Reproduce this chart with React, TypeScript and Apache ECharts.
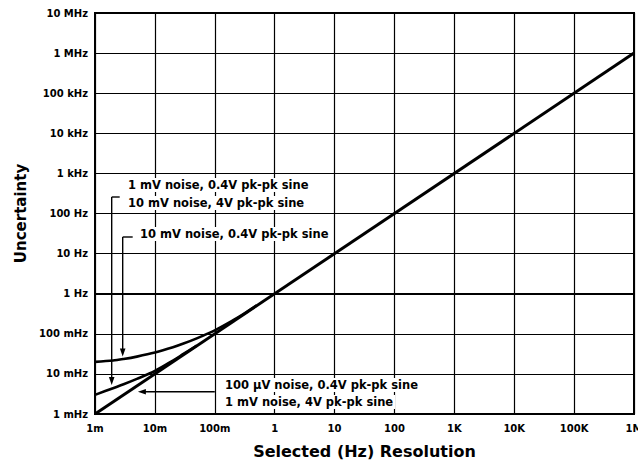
import React, { useEffect, useRef } from "react";
import * as echarts from "echarts";

// Tick labels (one per decade)
const xTickLabels = ["1m", "10m", "100m", "1", "10", "100", "1K", "10K", "100K", "1M"];
const yTickLabels = [
  "1 mHz", "10 mHz", "100 mHz", "1 Hz", "10 Hz", "100 Hz",
  "1 kHz", "10 kHz", "100 kHz", "1 MHz", "10 MHz",
];

// Resolution-limited line (uncertainty = resolution)
const lineX = [0.001, 1000000];
const lineY = [0.001, 1000000];

// 10 mV noise, 0.4V pk-pk sine (upper curve)
const upperX = [0.001, 0.002, 0.003, 0.005, 0.01, 0.02, 0.03, 0.05, 0.1, 0.2, 0.3, 0.5];
const upperY = [0.02, 0.0215, 0.0235, 0.027, 0.034, 0.046, 0.057, 0.077, 0.122, 0.215, 0.31, 0.51];

// 1 mV noise 0.4V / 10 mV noise 4V (middle curve)
const middleX = [0.001, 0.002, 0.003, 0.005, 0.01, 0.02, 0.03, 0.05];
const middleY = [0.003, 0.0044, 0.0055, 0.0075, 0.0118, 0.0215, 0.0315, 0.051];

// Annotation texts
const noteA = ["1 mV noise, 0.4V pk-pk sine", "10 mV noise, 4V pk-pk sine"];
const noteB = ["10 mV noise, 0.4V pk-pk sine"];
const noteC = ["100 \u03bcV noise, 0.4V pk-pk sine", "1 mV noise, 4V pk-pk sine"];

const FONT = "'DejaVu Sans', sans-serif";
const Y_MIN_EXP = -3;
const Y_MAX_EXP = 7;

// y values are placed on a decade (log10) value axis
function zip(xs: number[], ys: number[]) {
  return xs.map((x, i) => [x, Math.log10(ys[i])]);
}

function xIndex(v: number) {
  return Math.round(Math.log10(v)) + 3;
}

export default function App() {
  const ref = useRef<HTMLDivElement>(null);

  useEffect(() => {
    document.body.style.margin = "0";
    if (!ref.current) return;
    const chart = echarts.init(ref.current, undefined, { renderer: "svg" });

    const option: any = {
      animation: false,
      backgroundColor: "#fff",
      grid: {
        left: 95,
        right: 4,
        top: 13,
        bottom: 47,
        containLabel: false,
        outerBoundsMode: "none",
        show: true,
        borderColor: "#000",
        borderWidth: 2,
        backgroundColor: "transparent",
      },
      xAxis: {
        type: "log",
        logBase: 10,
        min: 0.001,
        max: 1000000,
        splitNumber: 9,
        name: "Selected (Hz) Resolution",
        nameLocation: "middle",
        nameGap: 29,
        nameTextStyle: { fontFamily: FONT, fontWeight: "bold", fontSize: 16, color: "#000" },
        axisLine: { show: true, lineStyle: { color: "#000", width: 2 } },
        axisTick: { show: false },
        axisLabel: {
          fontFamily: FONT,
          fontWeight: "bold",
          fontSize: 10,
          color: "#000",
          margin: 9,
          formatter: (v: number) => xTickLabels[xIndex(v)] ?? "",
        },
        splitLine: { show: true, lineStyle: { color: "#000", width: 1.2 } },
      },
      yAxis: {
        type: "value",
        min: Y_MIN_EXP,
        max: Y_MAX_EXP,
        interval: 1,
        name: "Uncertainty",
        nameLocation: "middle",
        nameGap: 66,
        nameRotate: 90,
        nameTextStyle: { fontFamily: FONT, fontWeight: "bold", fontSize: 15, color: "#000" },
        axisLine: { show: true, lineStyle: { color: "#000", width: 2 } },
        axisTick: { show: false },
        axisLabel: {
          fontFamily: FONT,
          fontWeight: "bold",
          fontSize: 10,
          color: "#000",
          margin: 7,
          formatter: (v: number) => yTickLabels[Math.round(v) - Y_MIN_EXP] ?? "",
        },
        splitLine: { show: true, lineStyle: { color: "#000", width: 1.2 } },
      },
      series: [
        {
          name: "resolution",
          type: "line",
          data: zip(lineX, lineY),
          showSymbol: false,
          lineStyle: { color: "#000", width: 3 },
          z: 3,
        },
        {
          name: "upper",
          type: "line",
          data: zip(upperX, upperY),
          showSymbol: false,
          smooth: 0.3,
          lineStyle: { color: "#000", width: 2.6 },
          z: 3,
        },
        {
          name: "middle",
          type: "line",
          data: zip(middleX, middleY),
          showSymbol: false,
          smooth: 0.3,
          lineStyle: { color: "#000", width: 2.6 },
          z: 3,
        },
      ],
    };

    chart.setOption(option);

    const px = (x: number, y: number) =>
      chart.convertToPixel({ gridIndex: 0 }, [x, Math.log10(y)]) as number[];

    const textStyle = (s: string) => ({
      text: s,
      fontFamily: FONT,
      fontWeight: "bold",
      fontSize: 11.5,
      fill: "#000",
      backgroundColor: "#fff",
      padding: [1, 2, 1, 2],
      verticalAlign: "middle",
      align: "left",
    });

    const arrowDown = (x: number, tipY: number) => ({
      type: "polygon",
      shape: { points: [[x - 2.8, tipY - 8], [x + 2.8, tipY - 8], [x, tipY]] },
      style: { fill: "#000" },
      z: 20,
    });
    const arrowLeft = (tipX: number, y: number) => ({
      type: "polygon",
      shape: { points: [[tipX + 8, y - 2.8], [tipX + 8, y + 2.8], [tipX, y]] },
      style: { fill: "#000" },
      z: 20,
    });
    const seg = (x1: number, y1: number, x2: number, y2: number) => ({
      type: "line",
      shape: { x1, y1, x2, y2 },
      style: { stroke: "#000", lineWidth: 1.4 },
      z: 20,
    });

    // Arrow A -> middle curve at ~1.9m
    const aTip = px(0.0019, 0.0053);
    // Arrow B -> upper curve at ~2.9m
    const bTip = px(0.0029, 0.027);
    // Arrow C -> resolution line at ~5.2m
    const cTip = px(0.0052, 0.0036);
    const cStart = px(0.1, 0.0036);

    const graphic: any[] = [
      // Note A
      { type: "text", x: 126, y: 185, style: textStyle(noteA[0]), z: 21 },
      { type: "text", x: 126, y: 203, style: textStyle(noteA[1]), z: 21 },
      seg(aTip[0], 197, aTip[0] + 8, 197),
      seg(aTip[0], 197, aTip[0], aTip[1] - 6),
      arrowDown(aTip[0], aTip[1]),
      // Note B
      { type: "text", x: 138, y: 234, style: textStyle(noteB[0]), z: 21 },
      seg(bTip[0], 237, bTip[0] + 10, 237),
      seg(bTip[0], 237, bTip[0], bTip[1] - 6),
      arrowDown(bTip[0], bTip[1]),
      // Note C
      { type: "text", x: 223, y: 385, style: textStyle(noteC[0]), z: 21 },
      { type: "text", x: 223, y: 402, style: textStyle(noteC[1]), z: 21 },
      seg(cStart[0], cStart[1], cTip[0] + 6, cTip[1]),
      arrowLeft(cTip[0], cTip[1]),
    ];

    chart.setOption({ graphic });

    return () => chart.dispose();
  }, []);

  return <div ref={ref} style={{ width: 638, height: 461 }} />;
}
